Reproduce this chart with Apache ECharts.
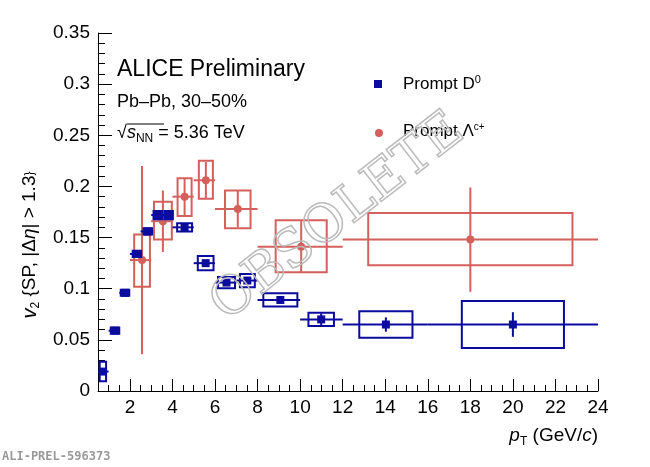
<!DOCTYPE html>
<html><head><meta charset="utf-8">
<script src="https://cdn.jsdelivr.net/npm/echarts@6/dist/echarts.min.js"></script>
<style>html,body{margin:0;padding:0;background:#fff}#c{width:650px;height:467px}</style>
</head><body><div id="c"></div>
<script>
var xTicks=[2,4,6,8,10,12,14,16,18,20,22,24];
var d0X=[0.73,1.3,1.77,2.33,2.84,3.31,3.82,4.57,5.56,6.54,7.52,9.07,10.99,14.03,20.0];
var d0Lo=[0.5,1,1.5,2,2.5,3,3.5,4,5,6,7,8,10,12,16];
var d0Hi=[1,1.5,2,2.5,3,3.5,4,5,6,7,8,10,12,16,24];
var d0Y=[0.019,0.059,0.096,0.134,0.156,0.172,0.172,0.160,0.125,0.106,0.108,0.089,0.070,0.065,0.065];
var d0Stat=[0.003,0.002,0.002,0.002,0.002,0.002,0.002,0.002,0.003,0.003,0.003,0.003,0.006,0.007,0.012];
var d0Sys=[0.0095,0.003,0.003,0.003,0.003,0.004,0.004,0.004,0.007,0.0055,0.0065,0.0065,0.0065,0.013,0.023];
var d0BoxW=[0.15,0.2,0.2,0.2,0.2,0.2,0.2,0.35,0.37,0.4,0.35,0.8,0.6,1.25,2.4];
var lcX=[2.57,3.55,4.57,5.57,7.07,10.05,18.0];
var lcLo=[2,3,4,5,6,8,12];
var lcHi=[3,4,5,6,8,12,24];
var lcY=[0.128,0.166,0.190,0.206,0.178,0.141,0.148];
var lcStat=[0.092,0.030,0.018,0.018,0.018,0.025,0.051];
var lcSysLo=[0.102,0.148,0.171,0.188,0.159,0.116,0.123];
var lcSysHi=[0.153,0.185,0.208,0.225,0.196,0.167,0.174];
var lcBoxW=[0.37,0.42,0.33,0.33,0.6,1.2,4.8];

var blue='#0b0b9e', red='#d4605c';
function mk(X,Lo,Hi,Y,sLo,sHi,bLo,bHi,bW){
  return X.map(function(x,i){return [x,Y[i],Lo[i],Hi[i],sLo[i],sHi[i],bLo[i],bHi[i],bW[i]];});
}
var d0Data=mk(d0X,d0Lo,d0Hi,d0Y,d0Y.map((v,i)=>v-d0Stat[i]),d0Y.map((v,i)=>v+d0Stat[i]),d0Y.map((v,i)=>v-d0Sys[i]),d0Y.map((v,i)=>v+d0Sys[i]),d0BoxW);
var lcData=mk(lcX,lcLo,lcHi,lcY,lcY.map((v,i)=>v-lcStat[i]),lcY.map((v,i)=>v+lcStat[i]),lcSysLo,lcSysHi,lcBoxW);

function render(color,marker){
  return function(params,api){
    var x=api.value(0),y=api.value(1);
    var c=api.coord([x,y]);
    var xl=api.coord([api.value(2),y]), xh=api.coord([api.value(3),y]);
    var sl=api.coord([x,api.value(4)]), sh=api.coord([x,api.value(5)]);
    var w=api.value(8);
    var b1=api.coord([x-w,api.value(7)]), b2=api.coord([x+w,api.value(6)]);
    var st={stroke:color,lineWidth:2,fill:null};
    var ch=[
      {type:'rect',shape:{x:b1[0],y:b1[1],width:b2[0]-b1[0],height:b2[1]-b1[1]},style:st},
      {type:'line',shape:{x1:xl[0],y1:c[1],x2:xh[0],y2:c[1]},style:st},
      {type:'line',shape:{x1:c[0],y1:sl[1],x2:c[0],y2:sh[1]},style:st}
    ];
    if(marker==='sq') ch.push({type:'rect',shape:{x:c[0]-4,y:c[1]-4,width:8,height:8},style:{fill:color}});
    else ch.push({type:'circle',shape:{cx:c[0],cy:c[1],r:4},style:{fill:color}});
    return {type:'group',children:ch};
  };
}
var minorX=[];for(var v=0.5;v<=24;v+=0.5)minorX.push(v);
var font='Liberation Sans, Arial, sans-serif';
var chart=echarts.init(document.getElementById('c'));
chart.setOption({
  animation:false,
  grid:{left:98,right:52,top:33,bottom:76},
  xAxis:[{type:'value',min:0.5,max:24,
    axisLine:{lineStyle:{color:'#000',width:1}},
    axisTick:{inside:true,length:12,customValues:xTicks,lineStyle:{color:'#000'}},
    axisLabel:{customValues:xTicks,color:'#000',fontSize:19,fontFamily:font,margin:7},
    splitLine:{show:false}},
   {type:'value',min:0.5,max:24,position:'bottom',
    axisLine:{show:false},axisTick:{inside:true,length:6,customValues:minorX,lineStyle:{color:'#000'}},
    axisLabel:{show:false},splitLine:{show:false}}],
  yAxis:{type:'value',min:0,max:0.35,interval:0.05,
    axisLine:{show:true,lineStyle:{color:'#000'}},
    axisTick:{show:true,inside:true,length:14,lineStyle:{color:'#000'}},
    minorTick:{show:true,splitNumber:5,length:7,lineStyle:{color:'#000'}},
    axisLabel:{color:'#000',fontSize:19,fontFamily:font,margin:8,formatter:function(v){return +v.toFixed(2)+'';}},
    splitLine:{show:false}},
  series:[
    {type:'custom',renderItem:render(red,'c'),data:lcData,encode:{x:0,y:1},clip:false,z:2},
    {type:'custom',renderItem:render(blue,'sq'),data:d0Data,encode:{x:0,y:1},clip:false,z:3}
  ],
  graphic:[
    {type:'text',left:117,top:58,style:{text:'ALICE Preliminary',font:'23px '+font,fill:'#000'}},
    {type:'text',left:117,top:93,style:{text:'Pb–Pb, 30–50%',font:'18px '+font,fill:'#000'}},
    {type:'text',left:117,top:124,style:{rich:{a:{fontSize:18,fontFamily:font},i:{fontSize:18,fontStyle:'italic',fontFamily:font},s:{fontSize:12,fontFamily:font,padding:[11,0,0,0]}},text:'{a|√}{i|s}{s|NN}{a| = 5.36 TeV}',fill:'#000'}},
    {type:'line',shape:{x1:127,y1:124,x2:164,y2:124},style:{stroke:'#000',lineWidth:1}},
    {type:'rect',shape:{x:374,y:80,width:8,height:8},style:{fill:blue}},
    {type:'text',left:403,top:74,style:{rich:{a:{fontSize:17,fontFamily:font},s:{fontSize:11,fontFamily:font,padding:[0,0,9,0]}},text:'{a|Prompt D}{s|0}'}},
    {type:'circle',shape:{cx:379,cy:133,r:4},style:{fill:red}},
    {type:'text',left:403,top:122,style:{rich:{a:{fontSize:17,fontFamily:font},s:{fontSize:10,fontFamily:font,padding:[0,0,9,0]}},text:'{a|Prompt Λ}{s|c+}'}},
    {type:'text',x:338,y:218,rotation:0.66,style:{text:'OBSOLETE',font:'52px DejaVu Serif, serif',fill:'rgba(255,255,255,0)',stroke:'#bbb',lineWidth:1.5,align:'center',verticalAlign:'middle'},z:10},
    {type:'text',x:598,y:424,style:{rich:{i:{fontSize:19,fontStyle:'italic',fontFamily:font},s:{fontSize:12,fontFamily:font,padding:[12,0,0,0]},a:{fontSize:19,fontFamily:font}},text:'{i|p}{s|T}{a| (GeV/}{i|c}{a|)}',align:'right'}},
    {type:'text',x:30,y:245,rotation:Math.PI/2,style:{rich:{i:{fontSize:20,fontStyle:'italic',fontFamily:font},s:{fontSize:12,fontFamily:font,padding:[12,0,0,0]},a:{fontSize:19,fontFamily:font},ii:{fontSize:19,fontStyle:'italic',fontFamily:font}},text:'{i|v}{s|2}{a| {SP, |Δ}{ii|η}{a|| > 1.3}}',align:'center',verticalAlign:'middle'}},
    {type:'text',left:2,top:451,style:{text:'ALI-PREL-596373',font:'bold 12px DejaVu Sans Mono, monospace',fill:'#999'}}
  ]
});
</script></body></html>
